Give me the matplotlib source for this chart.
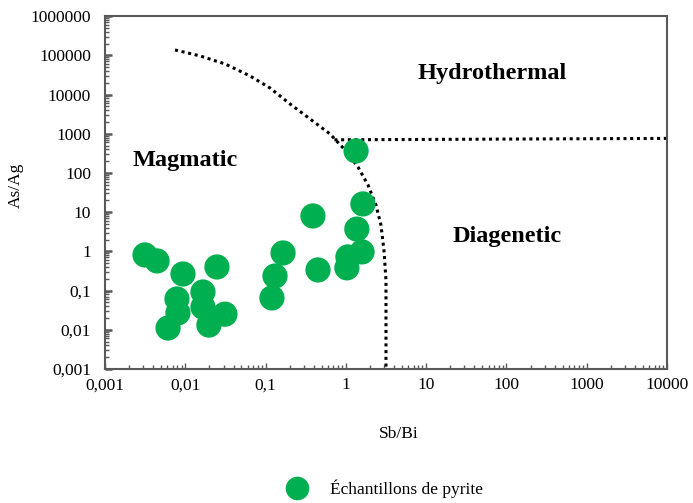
import matplotlib
matplotlib.use("Agg")
import matplotlib.pyplot as plt
from matplotlib.ticker import FixedLocator, LogLocator, NullFormatter
from matplotlib.lines import Line2D

plt.rcParams['font.family'] = ['Liberation Serif', 'DejaVu Serif']

# Pyrite samples: Sb/Bi vs As/Ag
sb_bi = [0.00315, 0.00445, 0.00936, 0.0248, 0.00788, 0.0166, 0.0081, 0.0061,
         0.0166, 0.0312, 0.0197, 0.165, 0.131, 0.120, 0.45, 0.389,
         1.37, 1.59, 1.06, 1.03, 1.63, 1.34]
as_ag = [0.81, 0.57, 0.265, 0.40, 0.061, 0.092, 0.027, 0.0111,
         0.038, 0.025, 0.0132, 0.91, 0.235, 0.065, 0.336, 8.0,
         3.7, 0.97, 0.72, 0.38, 16.2, 364]

# Field boundaries (dotted)
curve_x = [0.00745, 0.01524, 0.0312, 0.064, 0.1135, 0.2015, 0.357, 0.634,
           0.975, 1.415, 1.885, 2.37, 2.735, 2.98, 3.16, 3.16, 3.16]
curve_y = [137000, 96600, 60400, 29800, 14700, 5750, 2390, 990,
           386, 142, 49.4, 15.3, 4.71, 1.086, 0.186, 0.0178, 0.001]
horiz_x = [0.72, 10000]
horiz_y = [700, 760]

x_ticks = [0.001, 0.01, 0.1, 1, 10, 100, 1000, 10000]
x_labels = ['0,001', '0,01', '0,1', '1', '10', '100', '1000', '10000']
y_ticks = [0.001, 0.01, 0.1, 1, 10, 100, 1000, 10000, 100000, 1000000]
y_labels = ['0,001', '0,01', '0,1', '1', '10', '100', '1000', '10000',
            '100000', '1000000']

green = '#00b050'
frame = '#595959'

fig = plt.figure(figsize=(6.93, 5.03), dpi=100)
ax = fig.add_axes([0.1515, 0.2664, 0.811, 0.7016])
ax.set_xscale('log')
ax.set_yscale('log')
ax.set_xlim(0.001, 10000)
ax.set_ylim(0.001, 1000000)

ax.plot(curve_x, curve_y, color='black', linestyle=(0, (1, 1.2)), linewidth=2.2,
        zorder=2)
ax.plot(horiz_x, horiz_y, color='black', linestyle=(0, (1, 1.2)), linewidth=2.2,
        zorder=2)

ax.scatter(sb_bi, as_ag, s=330, color=green, edgecolors='none', zorder=3)

ax.xaxis.set_major_locator(FixedLocator(x_ticks))
ax.set_xticklabels(x_labels)
ax.yaxis.set_major_locator(FixedLocator(y_ticks))
ax.set_yticklabels(y_labels)
ax.xaxis.set_minor_locator(LogLocator(base=10, subs=range(2, 10), numticks=20))
ax.yaxis.set_minor_locator(LogLocator(base=10, subs=range(2, 10), numticks=20))
ax.xaxis.set_minor_formatter(NullFormatter())
ax.yaxis.set_minor_formatter(NullFormatter())

ax.tick_params(axis='both', which='both', direction='in', colors=frame,
               labelcolor='black', labelsize=12.5)
ax.tick_params(axis='x', which='major', length=4, width=1.0, pad=6)
ax.tick_params(axis='x', which='minor', length=3, width=1.0)
ax.tick_params(axis='y', which='major', length=5, width=1.8, pad=10)
ax.tick_params(axis='y', which='minor', length=3, width=1.0)

for sp in ax.spines.values():
    sp.set_color(frame)
    sp.set_linewidth(1.5)

ax.set_xlabel('Sb/Bi', fontsize=12.5)
ax.set_ylabel('As/Ag', fontsize=12.5)
ax.xaxis.set_label_coords(0.523, -0.161)
ax.yaxis.set_label_coords(-0.144, 0.52)

ax.text(0.689, 0.836, 'Hydrothermal', transform=ax.transAxes, fontsize=17.5,
        fontweight='bold', ha='center', va='center')
ax.text(0.142, 0.592, 'Magmatic', transform=ax.transAxes, fontsize=17.5,
        fontweight='bold', ha='center', va='center')
ax.text(0.715, 0.376, 'Diagenetic', transform=ax.transAxes, fontsize=17.5,
        fontweight='bold', ha='center', va='center')

handle = Line2D([], [], marker='o', linestyle='none', markersize=17,
                markerfacecolor=green, markeredgecolor='none')
fig.legend([handle], ['Échantillons de pyrite'], loc='center',
           bbox_to_anchor=(0.55, 0.028), frameon=False, fontsize=12.5,
           handletextpad=0.9)

fig.savefig('out.png', dpi=100)
